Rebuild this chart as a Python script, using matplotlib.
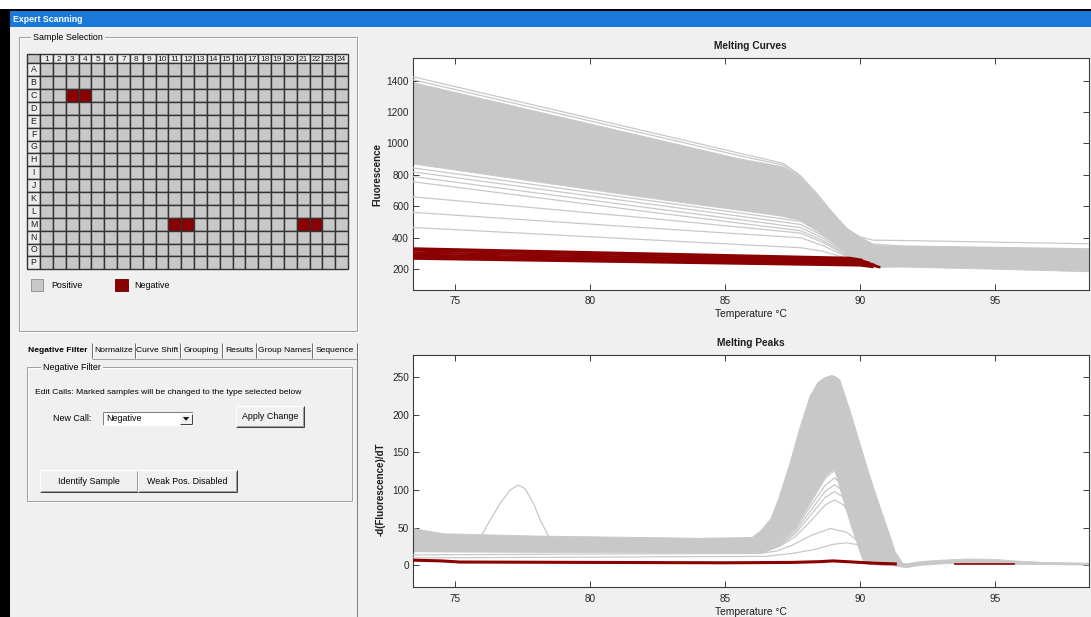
import numpy as np
import matplotlib
matplotlib.use("Agg")
import matplotlib.pyplot as plt
from matplotlib import font_manager
from matplotlib.patches import Rectangle, Polygon

W, H = 1091, 617


def first_font(*names):
    have = {f.name for f in font_manager.fontManager.ttflist}
    for n in names:
        if n in have:
            return n
    return "DejaVu Sans"


UI_FONT = first_font("Liberation Sans Narrow", "Liberation Sans", "Arial")
CHART_FONT = first_font("Liberation Sans", "Arial")
plt.rcParams["font.family"] = [CHART_FONT, "DejaVu Sans"]
UI_SIZE = 6.4
TAB_SIZE = 6.1

GREY = "#c8c8c8"
NEG_RED = "#8b0000"
PANEL = "#f0f0f0"
TITLE_BLUE = "#1a78d8"

# ---------------- plate / calls ----------------
plate_rows = list("ABCDEFGHIJKLMNOP")
plate_cols = list(range(1, 25))
negative_wells = ["C3", "C4", "M11", "M12", "M21", "M22"]
call_names = ["Positive", "Negative"]
tab_names = ["Negative Filter", "Normalize", "Curve Shift", "Grouping",
             "Results", "Group Names", "Sequence"]

# ---------------- melting curves: fluorescence vs temperature ----------------
temp_range = (73.45, 98.45)
fluor_range = (68, 1542)

# dense band of positive curves (upper / lower edge)
pos_hi_T = [73.45, 85.55, 87.15, 87.77, 88.39, 89.0, 89.5, 89.99, 90.3, 90.6, 91.5, 98.45]
pos_hi_F = [1388, 902, 852, 784, 672, 548, 455, 400, 372, 350, 347, 326]
pos_lo_T = [73.45, 81.86, 87.0, 87.77, 88.74, 89.25, 89.74, 90.48, 90.72, 91.5, 95.0, 98.45]
pos_lo_F = [870, 661, 540, 513, 406, 342, 279, 226, 212, 214, 200, 184]

# brightest two curves running above the band
top_T = [73.45, 85.55, 87.15, 87.77, 88.39, 89.0, 89.5, 89.99, 90.48, 91.5, 98.45]
top_curve_1 = [1425, 938, 874, 799, 683, 555, 460, 406, 385, 383, 362]
top_curve_2 = [1406, 922, 863, 792, 678, 552, 458, 403, 360, 348, 330]

# weaker positive curves below the band
weak_T = [73.45, 81.86, 87.8, 88.6, 89.4, 90.0, 90.7]
weak_curves = [
    [845, 645, 505, 430, 330, 255, 215],
    [820, 623, 485, 415, 320, 250, 215],
    [790, 598, 465, 400, 312, 248, 215],
    [757, 572, 445, 385, 305, 245, 215],
    [661, 530, 430, 372, 298, 242, 215],
    [562, 466, 400, 352, 288, 240, 215],
    [466, 390, 337, 315, 275, 235, 215],
]

# negative wells (no melt transition)
neg_curves = {
    "C3": ([73.45, 89.6, 90.1], [332, 272, 258]),
    "C4": ([73.45, 89.9, 90.35], [320, 262, 240]),
    "M11": ([73.45, 90.1, 90.55], [306, 250, 226]),
    "M12": ([73.45, 90.2, 90.65], [292, 240, 218]),
    "M21": ([73.45, 90.3, 90.75], [280, 232, 212]),
    "M22": ([73.45, 90.0, 90.5], [268, 225, 214]),
}

# ---------------- melting peaks: -dF/dT vs temperature ----------------
deriv_range = (-29, 279)

peak_hi_T = [73.45, 74.6, 78.0, 84.0, 86.0, 86.3, 86.7, 87.0, 87.4, 87.75, 88.15,
             88.45, 88.7, 88.95, 89.1, 89.25, 89.62, 89.99, 90.36, 90.73, 91.05,
             91.3, 91.55]
peak_hi_D = [49, 42, 39, 36, 37, 45, 62, 90, 135, 180, 225,
             243, 249, 252, 250, 246, 206, 162, 118, 78, 45,
             18, 4]
peak_lo_T = [73.45, 80.0, 86.0, 86.3, 87.0, 87.6, 88.2, 88.7, 89.05, 89.3, 89.68, 90.1, 90.3, 91.55]
peak_lo_D = [18, 17, 16, 18, 30, 52, 88, 118, 129, 96, 51, 7, 1, 0]

tail_T = [91.3, 91.7, 92.2, 93.0, 94.0, 95.0, 95.7, 96.8, 98.45]
tail_hi = [5, 2, 5, 7, 8.5, 8, 6, 4, 3]
tail_lo = [-1, -3, 0, 2, 3, 2.5, 1.5, 1, 0.5]

# primer-dimer bump near 77 C
bump_T = [76.0, 76.31, 76.68, 77.05, 77.36, 77.61, 77.92, 78.17, 78.47]
bump_D = [40, 60, 82, 100, 106.6, 101.6, 82, 60, 39]

# smaller peaks
small_T = [86.3, 87.0, 87.6, 88.2, 88.7, 89.05, 89.4, 89.8, 90.2, 90.6, 91.0]
small_peaks = [
    [18, 30, 52, 88, 118, 129, 118, 80, 40, 12, 3],
    [17, 28, 48, 80, 106, 116, 106, 72, 35, 10, 3],
    [17, 27, 45, 74, 98, 107, 98, 66, 32, 9, 2],
    [16, 26, 42, 68, 90, 98, 90, 60, 29, 8, 2],
    [16, 25, 38, 60, 80, 87, 80, 54, 26, 7, 2],
    [18, 30, 50, 85, 115, 126, 95, 45, 8, 1, 0],
]
peak50_T = [73.45, 86.3, 86.9, 87.5, 88.2, 88.9, 89.5, 90.0, 90.4, 90.9, 91.3]
peak50_D = [14, 16, 19, 27, 40, 49, 44, 30, 12, 3, 1]
peak30_T = [73.45, 86.5, 87.5, 88.3, 89.0, 89.5, 90.0, 90.5, 91.0, 91.4]
peak30_D = [10, 12, 16, 21, 28, 30, 27, 17, 6, 1]

neg_peak_T = [73.45, 74.5, 75.2, 80.0, 85.0, 87.5, 88.5, 89.0, 89.5, 90.5, 91.3]
neg_peak_D = [7, 6, 4.5, 4, 3.5, 4, 5, 6, 5, 3, 2]
neg_tail_T = [93.5, 95.7]
neg_tail_D = [1.5, 1.5]

temp_ticks = [75, 80, 85, 90, 95]
fluor_ticks = [200, 400, 600, 800, 1000, 1200, 1400]
deriv_ticks = [0, 50, 100, 150, 200, 250]

# =====================================================================
fig = plt.figure(figsize=(W / 100, H / 100), dpi=100, facecolor=PANEL)
ui = fig.add_axes([0, 0, 1, 1])
ui.set_xlim(0, W)
ui.set_ylim(H, 0)
ui.axis("off")
renderer = fig.canvas.get_renderer()


def rect(x0, y0, x1, y1, fc, ec="none", lw=0.0, z=1):
    ui.add_patch(Rectangle((x0, y0), x1 - x0, y1 - y0, facecolor=fc,
                           edgecolor=ec, linewidth=lw, zorder=z))


def hline(y, x0, x1, color, lw=0.75, z=2):
    ui.plot([x0, x1], [y, y], color=color, lw=lw, zorder=z, solid_capstyle="butt")


def vline(x, y0, y1, color, lw=0.75, z=2):
    ui.plot([x, x], [y0, y1], color=color, lw=lw, zorder=z, solid_capstyle="butt")


def label(x, y, s, width=None, size=UI_SIZE, ha="left", va="center",
          weight="normal", color="black", family=UI_FONT, z=5, **kw):
    t = ui.text(x, y, s, ha=ha, va=va, fontsize=size, fontweight=weight,
                color=color, family=family, zorder=z, **kw)
    if width is not None:
        w = t.get_window_extent(renderer).width
        if w > 0:
            t.set_fontsize(size * width / w)
    return t


def group_box(x0, y0, x1, y1, title, tx):
    ui.add_patch(Rectangle((x0 + 1, y0 + 1), x1 - x0, y1 - y0, fill=False,
                           ec="white", lw=0.75, zorder=2))
    ui.add_patch(Rectangle((x0, y0), x1 - x0, y1 - y0, fill=False,
                           ec="#a0a0a0", lw=0.75, zorder=2))
    label(tx, y0, title, bbox=dict(fc=PANEL, ec="none", pad=1.2))


def button(x0, y0, x1, y1, text):
    rect(x0, y0, x1, y1, PANEL, z=2)
    hline(y0, x0, x1, "white", z=3)
    vline(x0, y0, y1, "white", z=3)
    hline(y1, x0, x1, "#404040", z=3)
    vline(x1, y0, y1, "#404040", z=3)
    hline(y1 - 1, x0 + 1, x1 - 1, "#a0a0a0", z=3)
    vline(x1 - 1, y0 + 1, y1 - 1, "#a0a0a0", z=3)
    label((x0 + x1) / 2, (y0 + y1) / 2, text, ha="center")


# window chrome
rect(0, 0, W, 9, "white")
rect(0, 9, W, 10.5, "black", z=3)
rect(0, 9, 10, H, "black", z=3)
rect(10, 10.5, W, 27, TITLE_BLUE, z=2)
label(13, 19, "Expert Scanning", width=70, weight="bold", color="white")

# sample selection
group_box(19, 37, 357, 331, "Sample Selection", 33)
gx0, hx, gx1 = 27.3, 40.0, 348.0
gy0, hy, gy1 = 54.3, 63.3, 269.3
cw = (gx1 - hx) / len(plate_cols)
ch = (gy1 - hy) / len(plate_rows)
edge = "#333333"
rect(gx0, gy0, hx, hy, GREY, ec=edge, lw=1.0, z=3)
for j, c in enumerate(plate_cols):
    x0 = hx + j * cw
    rect(x0, gy0, x0 + cw, hy, "#ececec", ec=edge, lw=1.0, z=3)
    label(x0 + cw / 2, (gy0 + hy) / 2 + 0.3, str(c), size=6.0, ha="center",
          family=CHART_FONT, color="#1e1e1e")
for i, r in enumerate(plate_rows):
    y0 = hy + i * ch
    rect(gx0, y0, hx, y0 + ch, "#ececec", ec=edge, lw=1.0, z=3)
    label((gx0 + hx) / 2, y0 + ch / 2, r, size=6.3, ha="center",
          family=CHART_FONT, color="#1e1e1e")
    for j, c in enumerate(plate_cols):
        well = f"{r}{c}"
        fc = NEG_RED if well in negative_wells else GREY
        x0 = hx + j * cw
        rect(x0, y0, x0 + cw, y0 + ch, fc, ec=edge, lw=1.0, z=3)

# legend of calls
rect(31, 279, 43, 291, GREY, ec="#8a8a8a", lw=0.6, z=3)
label(51, 285, call_names[0])
rect(115, 279, 128, 291, NEG_RED, ec="#5a0000", lw=0.6, z=3)
label(134, 285, call_names[1])

# tab strip
tab_edges = [21, 92, 135, 180, 222, 256, 312, 357]
for k, name in enumerate(tab_names):
    xc = (tab_edges[k] + tab_edges[k + 1]) / 2 + (0 if k else 1)
    label(xc, 350.5, name, size=TAB_SIZE, ha="center",
          weight="bold" if k == 0 else "normal")
for xe in tab_edges[1:]:
    vline(xe, 343, 358, "#707070", z=3)
    vline(xe + 1, 343, 358, "white", z=3)
hline(358.5, 92, 357, "#a0a0a0", z=3)
vline(357, 358, H, "#808080", z=3)

# negative filter page
group_box(27, 367, 352, 501, "Negative Filter", 43)
label(35, 393, "Edit Calls: Marked samples will be changed to the type selected below",
      size=6.1)
label(53, 418.5, "New Call:")
rect(103, 412, 193, 425, "white", z=2)
hline(412, 103, 193, "#808080", z=3)
vline(103, 412, 425, "#808080", z=3)
hline(425, 103, 193, "white", z=3)
vline(193, 412, 425, "white", z=3)
label(106, 418.5, "Negative")
rect(180, 413.5, 192, 424, PANEL, z=3)
hline(413.5, 180, 192, "white", z=4)
vline(180, 413.5, 424, "white", z=4)
hline(424, 180, 192, "#404040", z=4)
vline(192, 413.5, 424, "#404040", z=4)
ui.add_patch(Polygon([(183.5, 417.3), (188.7, 417.3), (186.1, 420.3)],
                     closed=True, fc="black", ec="black", lw=0.4, zorder=5))
button(236, 406, 304, 427, "Apply Change")
button(40, 470, 138, 492, "Identify Sample")
button(138, 470, 237, 492, "Weak Pos. Disabled")

# =====================================================================
AX_L, AX_R = 412.7, 1088.6


def chart_axes(top, bottom):
    ax = fig.add_axes([AX_L / W, 1 - bottom / H, (AX_R - AX_L) / W, (bottom - top) / H],
                      zorder=2)
    ax.set_facecolor("white")
    for s in ax.spines.values():
        s.set_color("#3c3c3c")
        s.set_linewidth(0.8)
    ax.tick_params(direction="in", top=True, right=True, length=4, width=0.7,
                   color="#3c3c3c", labelsize=7.2, labelcolor="#262626", pad=2.6)
    ax.tick_params(axis="x", pad=4.5)
    ax.set_xlim(*temp_range)
    ax.set_xticks(temp_ticks)
    return ax


def polygon_band(ax, xs_hi, ys_hi, xs_lo, ys_lo):
    xs = list(xs_hi) + list(xs_lo)[::-1]
    ys = list(ys_hi) + list(ys_lo)[::-1]
    ax.fill(xs, ys, facecolor=GREY, edgecolor=GREY, lw=0.6, zorder=2)


# ---- melting curves ----
ax1 = chart_axes(58.3, 290.0)
ax1.set_ylim(*fluor_range)
ax1.set_yticks(fluor_ticks)
polygon_band(ax1, pos_hi_T, pos_hi_F, pos_lo_T, pos_lo_F)
ax1.plot(top_T, top_curve_1, color=GREY, lw=0.9, zorder=3)
ax1.plot(top_T, top_curve_2, color=GREY, lw=0.9, zorder=3)
for vals in weak_curves:
    ax1.plot(weak_T, vals, color=GREY, lw=0.9, zorder=3)
for well, (t, f) in neg_curves.items():
    ax1.plot(t, f, color=NEG_RED, lw=1.8, zorder=4, solid_capstyle="butt")
ax1.text(0.5, 1.053, "Melting Curves", transform=ax1.transAxes, ha="center",
         va="center", fontsize=7.3, fontweight="bold", color="#1e1e1e")
ax1.set_xlabel("Temperature °C", fontsize=7.4, color="#1e1e1e")
ax1.xaxis.set_label_coords(0.5, -0.084)
ax1.set_ylabel("Fluorescence", fontsize=7.0, fontweight="bold", color="#1e1e1e")
ax1.yaxis.set_label_coords(-0.0447, 0.5)

# ---- melting peaks ----
ax2 = chart_axes(355.0, 587.3)
ax2.set_ylim(*deriv_range)
ax2.set_yticks(deriv_ticks)
polygon_band(ax2, peak_hi_T, peak_hi_D, peak_lo_T, peak_lo_D)
polygon_band(ax2, tail_T, tail_hi, tail_T, tail_lo)
ax2.plot(bump_T, bump_D, color=GREY, lw=0.9, zorder=3)
for vals in small_peaks:
    ax2.plot(small_T, vals, color=GREY, lw=0.9, zorder=3)
ax2.plot(peak50_T, peak50_D, color=GREY, lw=0.9, zorder=3)
ax2.plot(peak30_T, peak30_D, color=GREY, lw=0.9, zorder=3)
ax2.plot(neg_peak_T, neg_peak_D, color=NEG_RED, lw=2.2, zorder=4)
ax2.plot(neg_tail_T, neg_tail_D, color=NEG_RED, lw=1.2, zorder=4)
ax2.text(0.5, 1.052, "Melting Peaks", transform=ax2.transAxes, ha="center",
         va="center", fontsize=7.3, fontweight="bold", color="#1e1e1e")
ax2.set_xlabel("Temperature °C", fontsize=7.4, color="#1e1e1e")
ax2.xaxis.set_label_coords(0.5, -0.083)
ax2.set_ylabel("-d(Fluorescence)/dT", fontsize=7.0, fontweight="bold", color="#1e1e1e")
ax2.yaxis.set_label_coords(-0.0395, 0.42)

fig.savefig("out.png", dpi=100, facecolor=PANEL)
